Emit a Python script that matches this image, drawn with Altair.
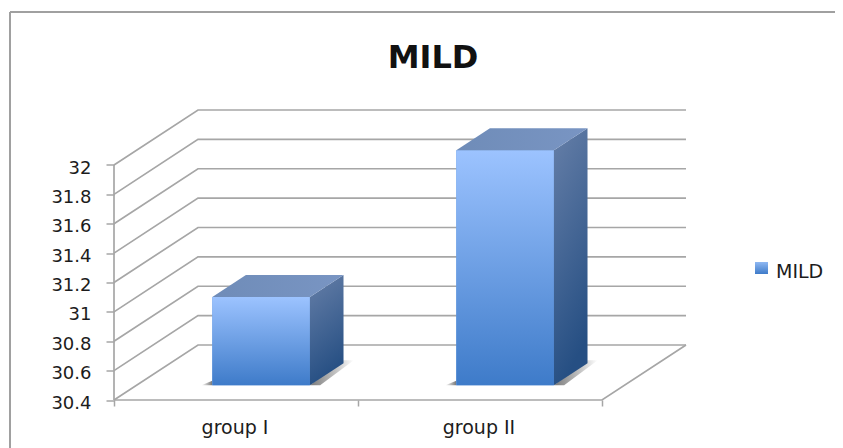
import altair as alt
import pandas as pd

title_text = "MILD"
series_name = "MILD"
categories = ["group I", "group II"]
values = [31.0, 32.0]
y_ticks = [30.4, 30.6, 30.8, 31.0, 31.2, 31.4, 31.6, 31.8, 32.0]

# oblique projection of the 3-D box: one unit of depth, in category / value units
DX = 84 / 244
DY = 55 / 146.9
Z0, Z1 = 0.27, 0.67
BAR_W = 0.4
BAR_SHIFT = 0.01
N = len(categories)
BASE = y_ticks[0]
TOP = y_ticks[-1]
FONT = "DejaVu Sans"
GRID = "#a6a6a6"
TEXT = "#1c1c1c"

x_scale = alt.Scale(domain=[0, N + DX], nice=False, zero=False)
y_scale = alt.Scale(domain=[BASE, BASE + (TOP - BASE) * 289.5 / 235], nice=False, zero=False)


def grad(stops, x2=0, y2=1):
    return alt.LinearGradient(
        gradient="linear", x1=0, y1=0, x2=x2, y2=y2,
        stops=[alt.GradientStop(color=c, offset=o) for c, o in stops],
    )


# walls
wall = []
for t in y_ticks:
    wall += [
        dict(k=f"g{t}", o=0, x=0, y=t),
        dict(k=f"g{t}", o=1, x=DX, y=t + DY),
        dict(k=f"g{t}", o=2, x=N + DX, y=t + DY),
    ]
wall += [dict(k="axis", o=0, x=0, y=BASE), dict(k="axis", o=1, x=0, y=TOP)]
wall += [
    dict(k="floor", o=0, x=0, y=BASE),
    dict(k="floor", o=1, x=N, y=BASE),
    dict(k="floor", o=2, x=N + DX, y=BASE + DY),
]

front, side, top, shadow_r, shadow_l = [], [], [], [], []
for i, (c, v) in enumerate(zip(categories, values)):
    l = i + (1 - BAR_W) / 2 + BAR_SHIFT
    r = l + BAR_W
    front.append(dict(cat=c, s=series_name, x=l + Z0 * DX, x2=r + Z0 * DX,
                      y=BASE + Z0 * DY, y2=v + Z0 * DY))
    for z in (Z0, Z1):
        side.append(dict(cat=c, x=r + z * DX, y=BASE + z * DY, y2=v + z * DY))
        top.append(dict(cat=c, y=v + z * DY, x=l + z * DX, x2=r + z * DX))
        shadow_r.append(dict(cat=c, y=BASE + z * DY + (0.02 if z == Z1 else 0),
                             x=r + z * DX, x2=r + z * DX + 0.042))
    shadow_l.append(dict(cat=c, x=l + Z0 * DX - 0.045, y=BASE + Z0 * DY, y2=BASE + Z0 * DY))
    shadow_l.append(dict(cat=c, x=l + Z0 * DX, y=BASE + Z0 * DY, y2=BASE + Z0 * DY + 0.03))

X = alt.X("x:Q", scale=x_scale, title=None,
          axis=alt.Axis(values=list(range(N + 1)), labels=False, domain=False, grid=False,
                        tickSize=6, tickColor=GRID, tickWidth=1.5))
Y = alt.Y("y:Q", scale=y_scale, title=None,
          axis=alt.Axis(values=y_ticks, domain=False, grid=False, tickSize=8,
                        tickColor=GRID, tickWidth=1.5, labelFont=FONT, labelFontSize=18,
                        labelColor=TEXT, labelPadding=15, labelOffset=3,
                        labelExpr="format(datum.value, '.1f') == '31.0' ? '31' : format(datum.value, '.1f') == '32.0' ? '32' : format(datum.value, '.1f')"))

walls = alt.Chart(pd.DataFrame(wall)).mark_line(color=GRID, strokeWidth=1.7).encode(
    x=X, y=Y, detail="k:N", order="o:Q")

sh_r = alt.Chart(pd.DataFrame(shadow_r)).mark_area(
    orient="horizontal",
    color=grad([("#7a7a7a", 0), ("#c4c4c4", 0.6), ("#ffffff", 1)], x2=1, y2=0),
).encode(y=Y, x=X, x2="x2:Q", detail="cat:N")

sh_l = alt.Chart(pd.DataFrame(shadow_l)).mark_area(
    color=grad([("#ffffff", 0), ("#777777", 1)], x2=1, y2=0),
).encode(x=X, y=Y, y2="y2:Q", detail="cat:N")

front_base = alt.Chart(pd.DataFrame(front)).mark_rect().encode(
    x=X, x2="x2:Q", y=Y, y2="y2:Q",
    color=alt.Color("s:N", title=None,
                    scale=alt.Scale(domain=[series_name], range=["#5f97e0"]),
                    legend=alt.Legend(orient="none", legendX=639, legendY=151.5, padding=0,
                                      symbolType="square", symbolSize=160, symbolStrokeWidth=0,
                                      symbolOpacity=0,
                                      labelFont=FONT, labelFontSize=19, labelColor=TEXT,
                                      labelOffset=4)),
)
front_grad = alt.Chart(pd.DataFrame(front)).mark_rect(
    color=grad([("#9cc3ff", 0), ("#3e7bc9", 1)]),
).encode(x=X, x2="x2:Q", y=Y, y2="y2:Q")

side_face = alt.Chart(pd.DataFrame(side)).mark_area(
    color=grad([("#667fa8", 0), ("#264f83", 1)], x2=0.25, y2=1),
).encode(x=X, y=Y, y2="y2:Q", detail="cat:N")

top_face = alt.Chart(pd.DataFrame(top)).mark_area(
    orient="horizontal",
    color=grad([("#6f8cb8", 0), ("#7995c3", 1)], x2=1, y2=0),
).encode(y=Y, x=X, x2="x2:Q", detail="cat:N")

cat_df = pd.DataFrame(dict(cat=categories, x=[i + 0.5 for i in range(N)], y=[BASE] * N))
cat_labels = alt.Chart(cat_df).mark_text(
    font=FONT, fontSize=19, color=TEXT, dy=28, dx=-1, baseline="middle",
).encode(x=X, y=Y, text="cat:N")

one = pd.DataFrame({"a": [0]})
swatch = alt.Chart(one).mark_rect(color=grad([("#8fb8f2", 0), ("#3e7bc9", 1)])).encode(
    x=alt.value(641), x2=alt.value(654), y=alt.value(151.5), y2=alt.value(163.5))
border_v = alt.Chart(one).mark_rule(color="#a0a0a0", strokeWidth=2).encode(
    x=alt.value(-104), y=alt.value(-98.5), y2=alt.value(348))
border_h = alt.Chart(one).mark_rule(color="#a0a0a0", strokeWidth=2).encode(
    x=alt.value(-104), x2=alt.value(729), y=alt.value(-98.5))

chart = alt.layer(
    walls, border_v, border_h, sh_r, sh_l, front_base, front_grad, side_face, top_face,
    cat_labels, swatch,
).properties(
    width=572,
    height=289.5,
    title=alt.TitleParams(title_text, font=FONT, fontSize=32, fontWeight="bold", color="#111111",
                          anchor="middle", dx=33, offset=-64),
    padding=dict(left=106, top=102.5, right=149, bottom=48),
    autosize=alt.AutoSizeParams(type="none"),
).configure_view(stroke=None)

chart.save("out.html", embed_options={"renderer": "svg", "actions": False})
